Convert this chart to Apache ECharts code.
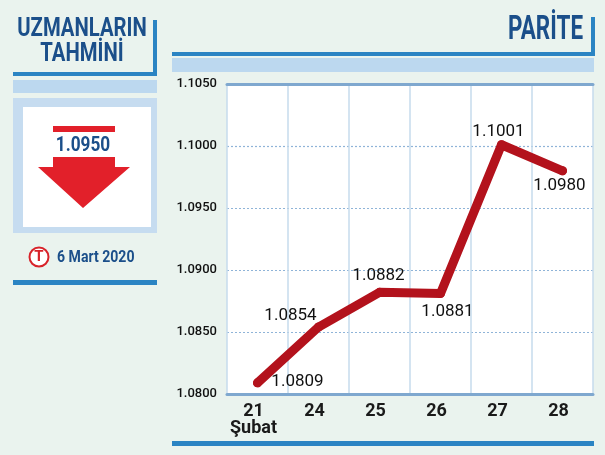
<!DOCTYPE html>
<html>
<head>
<meta charset="utf-8">
<script src="https://cdn.jsdelivr.net/npm/echarts@6/dist/echarts.min.js"></script>
<style>
html,body{margin:0;padding:0;background:#eaf3ee;}
#c{width:605px;height:455px;}
</style>
</head>
<body>
<div id="c"></div>
<script>
const categories = ['21\nŞubat', '24', '25', '26', '27', '28'];
const values = [1.0809, 1.0854, 1.0882, 1.0881, 1.1001, 1.0980];
const yTicks = [1.0800, 1.0850, 1.0900, 1.0950, 1.1000, 1.1050];
const forecastValue = '1.0950';
const forecastDate = '6 Mart 2020';
const leftTitle = 'UZMANLARIN\nTAHMİNİ';
const rightTitle = 'PARİTE';

const FONT = 'Roboto,"Open Sans",sans-serif';
const DARK = '#1b4f8a';
const BLUE = '#2b84c3';
const BAND = '#bcd8ef';
const RED = '#b3121c';

const labelOffsets = [[40,-1],[-28,-11],[-1,-17],[7,18],[-3,-13],[-3,15]];

const chart = echarts.init(document.getElementById('c'));
chart.setOption({
  backgroundColor: '#eaf3ee',
  animation: false,
  grid: {left: 227, right: 12, top: 84, bottom: 61, show: true, backgroundColor: '#ffffff', borderWidth: 0},
  xAxis: [{
    type: 'category', data: categories, boundaryGap: true,
    axisLine: {show: true, lineStyle: {color: '#7fa8cf', width: 3}},
    axisTick: {show: false},
    splitLine: {show: true, interval: 0, lineStyle: {color: '#c6dbec', width: 1.5, type: 'solid'}},
    axisLabel: {interval: 0, color: '#1a1a1a', fontFamily: FONT, fontWeight: 'bold', fontSize: 18, lineHeight: 17, margin: 9, padding: [0, 8, 0, 0]}
  },{
    type: 'category', data: categories, position: 'top', boundaryGap: true,
    axisLine: {show: true, lineStyle: {color: '#7fa8cf', width: 3}},
    axisTick: {show: false}, axisLabel: {show: false}, splitLine: {show: false}
  }],
  yAxis: {
    type: 'value', min: yTicks[0], max: yTicks[yTicks.length-1], interval: 0.005,
    axisLine: {show: false}, axisTick: {show: false},
    splitLine: {show: true, lineStyle: {color: '#8fb4d8', width: 1.2, type: [2,2]}},
    axisLabel: {color: '#111', fontFamily: FONT, fontWeight: 500, fontSize: 13, margin: 10,
      formatter: v => v.toFixed(4)}
  },
  series: [{
    type: 'line',
    data: values.map((v,i) => ({value: v, label: {offset: labelOffsets[i]}})),
    symbol: 'circle', symbolSize: 9,
    itemStyle: {color: RED},
    lineStyle: {color: RED, width: 9, cap: 'round', join: 'round'},
    label: {show: true, position: 'inside', color: '#111', fontFamily: FONT, fontSize: 17,
      formatter: p => p.value.toFixed(4)},
    z: 5
  }],
  graphic: [
    // left title block
    {type: 'text', x: 82, y: 42, scaleX: 0.78, style: {text: leftTitle, fill: DARK, font: 'bold 26px ' + FONT, lineHeight: 25, align: 'center', verticalAlign: 'middle'}},
    {type: 'rect', shape: {x: 153, y: 20, width: 4, height: 56}, style: {fill: BLUE}},
    {type: 'rect', shape: {x: 13, y: 72, width: 144, height: 4}, style: {fill: BLUE}},
    {type: 'rect', shape: {x: 13, y: 80, width: 144, height: 13}, style: {fill: BAND}},
    {type: 'rect', shape: {x: 13, y: 98, width: 144, height: 135}, style: {fill: '#c6dcf0'}},
    {type: 'rect', shape: {x: 23, y: 107, width: 128, height: 120}, style: {fill: '#ffffff'}},
    {type: 'rect', shape: {x: 53, y: 126, width: 62, height: 6}, style: {fill: '#e2202a'}},
    {type: 'text', x: 83, y: 146, scaleX: 0.82, style: {text: forecastValue, fill: DARK, font: 'bold 21px ' + FONT, align: 'center', verticalAlign: 'middle'}},
    {type: 'polygon', shape: {points: [[53,157],[115,157],[115,167],[130,167],[83,208],[38,167],[53,167]]}, style: {fill: '#e2202a'}},
    {type: 'circle', shape: {cx: 39, cy: 257, r: 9.5}, style: {fill: '#ffffff', stroke: '#d8232a', lineWidth: 2}},
    {type: 'text', x: 39, y: 257.5, style: {text: 'T', fill: '#d8232a', font: 'bold 15px ' + FONT, align: 'center', verticalAlign: 'middle'}},
    {type: 'text', x: 57, y: 258, scaleX: 0.88, style: {text: forecastDate, fill: DARK, font: 'bold 16px ' + FONT, align: 'left', verticalAlign: 'middle'}},
    {type: 'rect', shape: {x: 13, y: 280, width: 144, height: 5}, style: {fill: BLUE}},
    // right title block
    {type: 'text', x: 583, y: 31, scaleX: 0.68, style: {text: rightTitle, fill: DARK, font: 'bold 33px ' + FONT, align: 'right', verticalAlign: 'middle'}},
    {type: 'rect', shape: {x: 591, y: 17, width: 4, height: 39}, style: {fill: BLUE}},
    {type: 'rect', shape: {x: 172, y: 52, width: 423, height: 4}, style: {fill: BLUE}},
    {type: 'rect', shape: {x: 172, y: 58, width: 422, height: 14}, style: {fill: BAND}},
    {type: 'rect', shape: {x: 172, y: 441, width: 422, height: 5}, style: {fill: BLUE}}
  ]
});
</script>
</body>
</html>
